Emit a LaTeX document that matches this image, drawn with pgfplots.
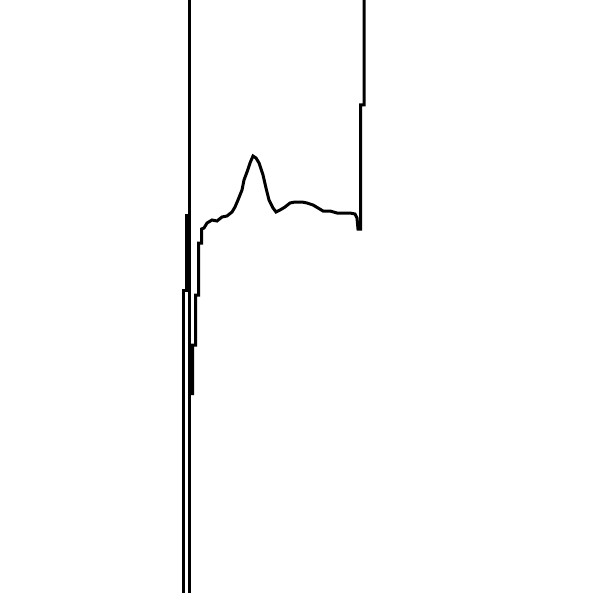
\documentclass[border=0pt]{standalone}
\usepackage{pgfplots}
\pgfplotsset{compat=1.18}
\begin{document}
\begin{tikzpicture}
\begin{axis}[
  scale only axis, width=594bp, height=593bp,
  xmin=0, xmax=594, ymin=0, ymax=593, y dir=reverse,
  axis line style={draw=none}, ticks=none, clip=true
]
\pgfplotsset{myline/.style={black, line width=3bp, mark=none, line join=miter, line cap=butt}}
\addplot[myline] table {
x y
189.5 -10
189.5 610
};
\addplot[myline] table {
x y
183.5 610
183.5 290
186.5 290
186.5 214
};
\addplot[myline] table {
x y
192.5 395
192.5 345
195.5 345
195.5 295
198.5 295
198.5 243
201.5 243
201.5 229
204 228
207 223
212 220
217 221
222 217
227 216
232 212
235 207
238 200
242 190
244 180
247 172
250 163
253 156
256 158
259 163
263 175
266 188
269 200
273 208
276 212
280 210
285 207
290 203
295 202
302 202
307 203
313 205
318 208
323 211
330 211
337 213
343 213
350 213
355 214
357 218
358 229
360.5 229
360.5 105
364 105
364 -10
};
\end{axis}
\end{tikzpicture}
\end{document}
